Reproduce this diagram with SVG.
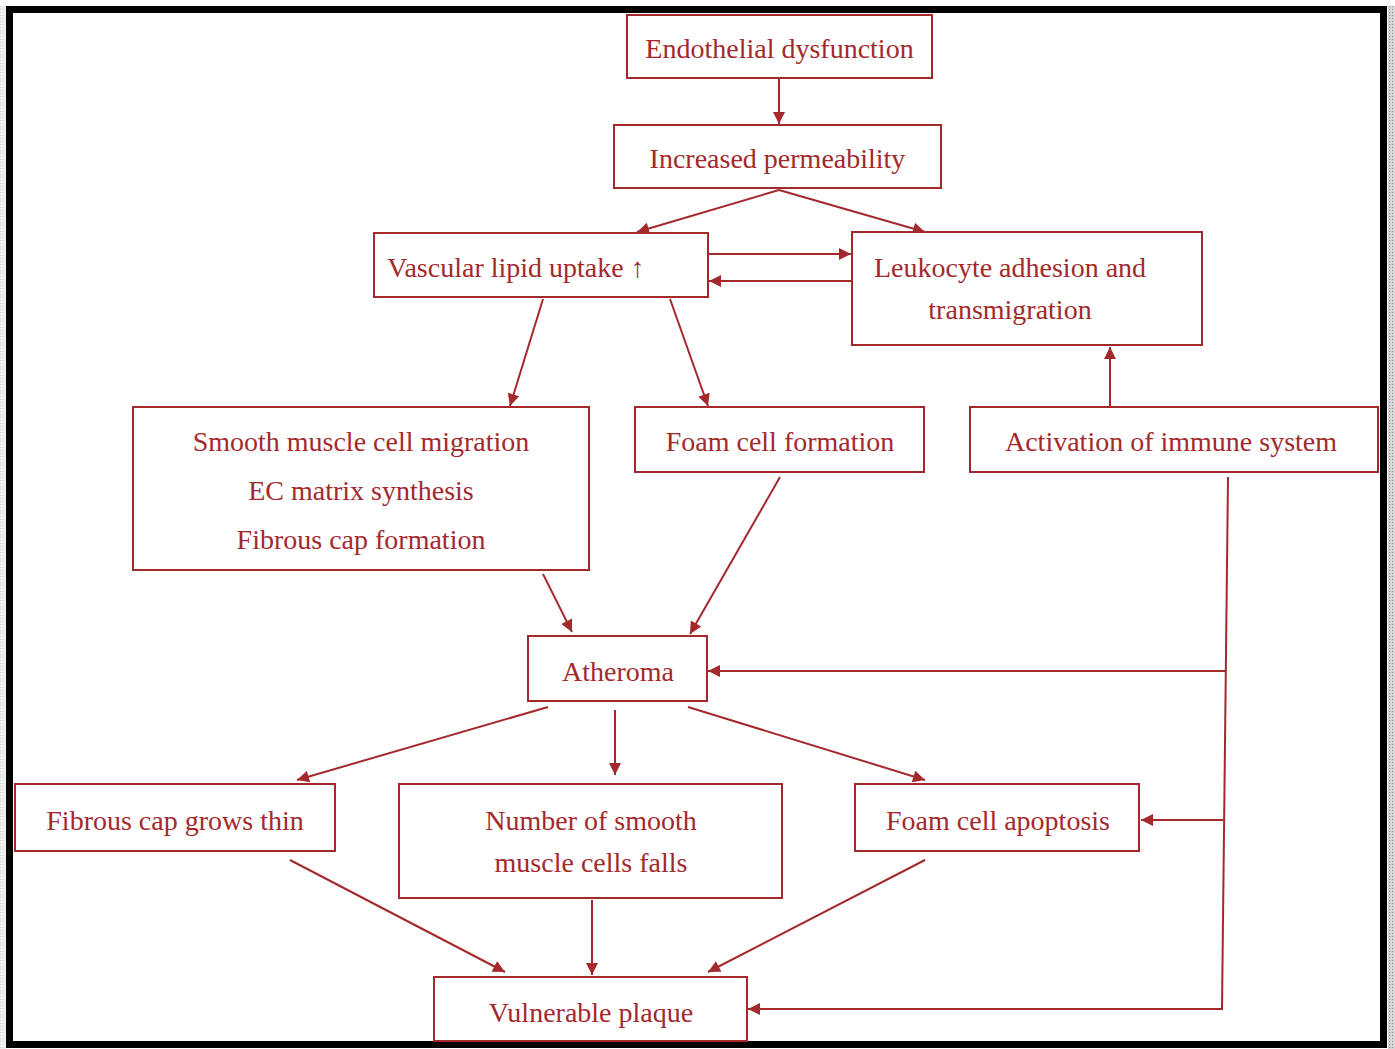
<svg xmlns="http://www.w3.org/2000/svg" width="1395" height="1049" viewBox="0 0 1395 1049">
<defs>
<marker id="ah" viewBox="0 0 10 10" refX="10" refY="5" markerWidth="13" markerHeight="12" markerUnits="userSpaceOnUse" orient="auto">
<path d="M0,0 L10,5 L0,10 z" fill="#a3292c"/>
</marker>
<pattern id="hatch" width="3" height="3" patternUnits="userSpaceOnUse">
<rect width="3" height="3" fill="#d8d8d8"/>
<rect width="1" height="1" fill="#888"/>
</pattern>
</defs>
<style>
.box{fill:#fff;stroke:#a3292c;stroke-width:2}
.t{font-family:"Liberation Serif","Times New Roman",serif;font-size:28px;fill:#a3292c;text-anchor:middle}
.c{fill:none;stroke:#a3292c;stroke-width:2}
.a{marker-end:url(#ah)}
</style>
<rect width="1395" height="1049" fill="#fff"/>
<rect x="1388" y="6" width="7" height="1043" fill="url(#hatch)"/>
<rect x="0" y="6" width="6" height="1043" fill="url(#hatch)" opacity="0.4"/>
<rect x="9.5" y="9.5" width="1374" height="1035" fill="none" stroke="#000" stroke-width="7"/>

<g id="connectors">
<line class="c a" x1="779" y1="79" x2="779" y2="124"/>
<line class="c a" x1="779" y1="190" x2="637" y2="232"/>
<line class="c a" x1="779" y1="190" x2="925" y2="232"/>
<line class="c a" x1="709" y1="254" x2="851" y2="254"/>
<line class="c a" x1="852" y1="281" x2="709" y2="281"/>
<line class="c a" x1="543" y1="299" x2="510" y2="406"/>
<line class="c a" x1="670" y1="299" x2="708" y2="406"/>
<line class="c a" x1="1110" y1="407" x2="1110" y2="347"/>
<line class="c a" x1="543" y1="574" x2="572" y2="632"/>
<line class="c a" x1="780" y1="477" x2="690" y2="634"/>
<polyline class="c a" points="1228,477 1222,1009 748,1009"/>
<line class="c a" x1="1225" y1="671" x2="708" y2="671"/>
<line class="c a" x1="1223" y1="820" x2="1141" y2="820"/>
<line class="c a" x1="548" y1="707" x2="297" y2="780"/>
<line class="c a" x1="615" y1="710" x2="615" y2="775"/>
<line class="c a" x1="688" y1="707" x2="925" y2="780"/>
<line class="c a" x1="290" y1="860" x2="505" y2="972"/>
<line class="c a" x1="592" y1="900" x2="592" y2="975"/>
<line class="c a" x1="925" y1="860" x2="708" y2="972"/>
</g>

<g id="n-endothelial"><rect class="box" x="627" y="15" width="305" height="63"/><text class="t" x="779.5" y="58">Endothelial dysfunction</text></g>
<g id="n-permeability"><rect class="box" x="614" y="125" width="327" height="63"/><text class="t" x="777.5" y="168">Increased permeability</text></g>
<g id="n-lipid"><rect class="box" x="374" y="233" width="334" height="64"/><text class="t" x="516" y="277">Vascular lipid uptake ↑</text></g>
<g id="n-leukocyte"><rect class="box" x="852" y="232" width="350" height="113"/><text class="t" x="1010" y="277">Leukocyte adhesion and</text><text class="t" x="1010" y="319">transmigration</text></g>
<g id="n-smooth"><rect class="box" x="133" y="407" width="456" height="163"/><text class="t" x="361" y="451">Smooth muscle cell migration</text><text class="t" x="361" y="500">EC matrix synthesis</text><text class="t" x="361" y="549">Fibrous cap formation</text></g>
<g id="n-foamform"><rect class="box" x="635" y="407" width="289" height="65"/><text class="t" x="780" y="451">Foam cell formation</text></g>
<g id="n-immune"><rect class="box" x="970" y="407" width="408" height="65"/><text class="t" x="1171" y="451">Activation of immune system</text></g>
<g id="n-atheroma"><rect class="box" x="528" y="636" width="179" height="65"/><text class="t" x="618" y="681">Atheroma</text></g>
<g id="n-fibrous"><rect class="box" x="15" y="784" width="320" height="67"/><text class="t" x="175" y="830">Fibrous cap grows thin</text></g>
<g id="n-number"><rect class="box" x="399" y="784" width="383" height="114"/><text class="t" x="591" y="830">Number of smooth</text><text class="t" x="591" y="872">muscle cells falls</text></g>
<g id="n-apoptosis"><rect class="box" x="855" y="784" width="284" height="67"/><text class="t" x="998" y="830">Foam cell apoptosis</text></g>
<g id="n-vulnerable"><rect class="box" x="434" y="977" width="313" height="64"/><text class="t" x="591" y="1022">Vulnerable plaque</text></g>
</svg>
